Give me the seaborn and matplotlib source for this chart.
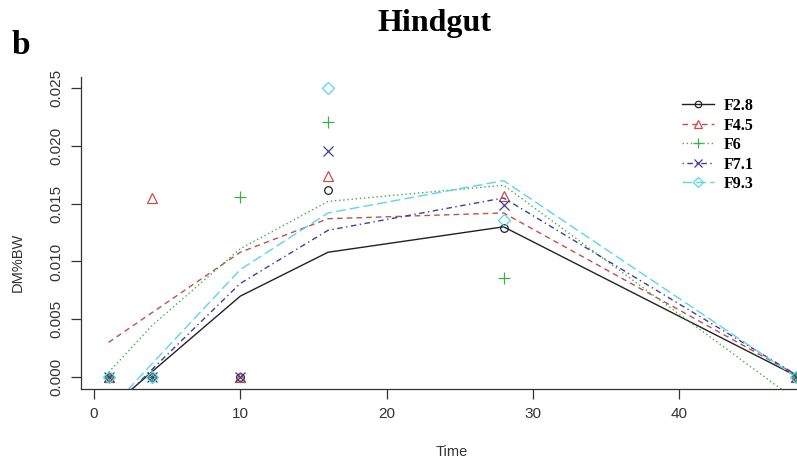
import numpy as np
import pandas as pd
import matplotlib
matplotlib.use('Agg')
import matplotlib.pyplot as plt
import seaborn as sns
from matplotlib.lines import Line2D

# sampling times
time = [1, 4, 10, 16, 28, 48]
series = ['F2.8', 'F4.5', 'F6', 'F7.1', 'F9.3']

# observed DM%BW points
obs_f28 = [0, 0, 0, 0.0162, 0.0129, 0]
obs_f45 = [0, 0.0155, 0, 0.0174, 0.0157, 0]
obs_f6 = [0, 0, 0.0156, 0.0221, 0.0086, 0]
obs_f71 = [0, 0, 0, 0.0196, 0.0149, 0]
obs_f93 = [0, 0, np.nan, 0.0250, 0.0136, 0]

# fitted curves
fit_f28 = [-0.0028, 0.0005, 0.0070, 0.0108, 0.0130, 0.0001]
fit_f45 = [0.0030, 0.0056, 0.0108, 0.0137, 0.0142, 0.0002]
fit_f6 = [0.0004, 0.0045, 0.0111, 0.0152, 0.0166, -0.0020]
fit_f71 = [-0.0031, 0.0007, 0.0081, 0.0127, 0.0155, 0.0002]
fit_f93 = [-0.0029, 0.0012, 0.0093, 0.0142, 0.0170, 0.0]

obs = pd.DataFrame({'Time': time, 'F2.8': obs_f28, 'F4.5': obs_f45, 'F6': obs_f6,
                    'F7.1': obs_f71, 'F9.3': obs_f93})
fit = pd.DataFrame({'Time': time, 'F2.8': fit_f28, 'F4.5': fit_f45, 'F6': fit_f6,
                    'F7.1': fit_f71, 'F9.3': fit_f93})
obs = obs.melt(id_vars='Time', var_name='grupo', value_name='DM').dropna()
fit = fit.melt(id_vars='Time', var_name='grupo', value_name='DM')

cores = {'F2.8': '#222222', 'F4.5': '#C0504D', 'F6': '#3CB043',
         'F7.1': '#3E3E9C', 'F9.3': '#5CD6E8'}
marcadores = {'F2.8': 'o', 'F4.5': '^', 'F6': '+', 'F7.1': 'x', 'F9.3': 'D'}
tamanhos = {'F2.8': 5.5, 'F4.5': 7.5, 'F6': 9, 'F7.1': 7.5, 'F9.3': 6.5}
tracos = {'F2.8': '-', 'F4.5': (0, (4, 3)), 'F6': (0, (1, 2)),
          'F7.1': (0, (1, 2.5, 4, 2.5)), 'F9.3': (0, (7, 3))}

fig = plt.figure(figsize=(7.97, 4.65), dpi=100)
ax = fig.add_axes([81.1 / 797, (465 - 388.6) / 465, 742.6 / 797, 312 / 465])

for g in series:
    d_fit = fit[fit['grupo'] == g]
    sns.lineplot(data=d_fit, x='Time', y='DM', ax=ax, color=cores[g],
                 linestyle=tracos[g], linewidth=1.0, estimator=None)
for g in series:
    d_obs = obs[obs['grupo'] == g]
    sns.lineplot(data=d_obs, x='Time', y='DM', ax=ax, color=cores[g],
                 linestyle='none', marker=marcadores[g], markersize=tamanhos[g],
                 markerfacecolor='none', markeredgecolor=cores[g],
                 markeredgewidth=0.9, estimator=None)

ax.set_xlim(-0.88, 49.88)
ax.set_ylim(-0.001, 0.026)
ax.set_xticks([0, 10, 20, 30, 40])
yt = np.arange(0, 0.0251, 0.005)
ax.set_yticks(yt)
ax.set_yticklabels([f'{v:.3f}' for v in yt], rotation=90, va='center')
ax.set_xlabel('')
ax.set_ylabel('')
ax.spines['top'].set_visible(False)
ax.spines['right'].set_visible(False)
for s in ['left', 'bottom']:
    ax.spines[s].set_linewidth(0.9)
    ax.spines[s].set_color('#333333')
ax.tick_params(direction='out', length=7, width=0.9, color='#333333',
               labelsize=11, labelcolor='#333333', pad=6)
for lab in ax.get_xticklabels() + ax.get_yticklabels():
    lab.set_family('Liberation Sans')

fig.text(452 / 797, 1 - 452 / 465, 'Time', ha='center', va='center',
         fontsize=10.5, family='Liberation Sans', color='#333333')
fig.text(18 / 797, 1 - 262 / 465, 'DM%BW', ha='center', va='center', rotation=90,
         fontsize=10.5, family='Liberation Sans', color='#333333')
fig.text(435 / 797, 1 - 23 / 465, 'Hindgut', ha='center', va='center',
         fontsize=23, fontweight='bold', family='Liberation Serif')
fig.text(21 / 797, 1 - 45 / 465, 'b', ha='center', va='center',
         fontsize=24, fontweight='bold', family='Liberation Serif')

handles = [Line2D([], [], color=cores[g], linestyle=tracos[g], linewidth=1.0,
                  marker=marcadores[g], markersize=tamanhos[g] * 0.85,
                  markerfacecolor='none', markeredgewidth=0.9) for g in series]
ax.legend(handles, series, loc='upper left', bbox_to_anchor=(682 / 797, 1 - 98 / 465),
          bbox_transform=fig.transFigure, frameon=False,
          prop={'family': 'Liberation Serif', 'weight': 'bold', 'size': 11.5},
          handlelength=2.0, handletextpad=0.6, labelspacing=0.22,
          borderpad=0, borderaxespad=0)

fig.savefig('out.png', dpi=100)
